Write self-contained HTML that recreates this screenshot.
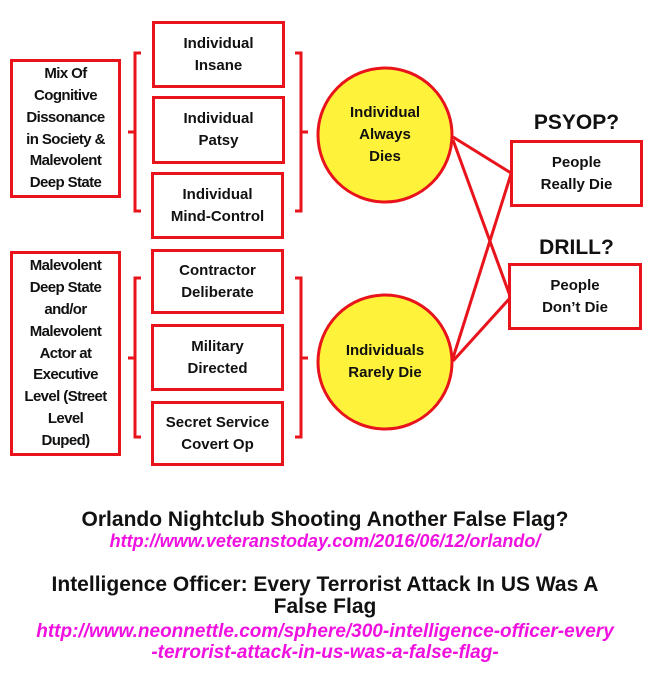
<!DOCTYPE html>
<html><head><style>
body{margin:0;width:650px;height:692px;background:#fff;position:relative;overflow:hidden;font-family:"Liberation Sans",sans-serif}
.b{position:absolute;border:3px solid #e8131b;box-sizing:border-box;display:flex;align-items:center;justify-content:center;text-align:center;font-weight:bold;font-size:15px;line-height:22px;color:#111;background:#fff}
.n{font-size:15px;letter-spacing:-0.6px;line-height:21.8px;white-space:nowrap}
.t{position:absolute;left:0;width:650px;text-align:center;font-weight:bold;white-space:nowrap}
.k{color:#111;font-size:21px;line-height:22px}
.u{color:#f010e0;font-style:italic;font-size:18px;line-height:21px}
</style></head><body>
<svg width="650" height="692" style="position:absolute;left:0;top:0">
<g stroke="#e8131b" stroke-width="3" fill="none">
<path d="M141 53 H135 V211 H141 M135 132 H128"/>
<path d="M295 53 H301 V211 H295 M301 132 H308"/>
<path d="M141 278 H135 V437 H141 M135 358 H128"/>
<path d="M295 278 H301 V437 H295 M301 358 H308"/>
<line x1="453" y1="137" x2="511" y2="173"/>
<line x1="453" y1="140" x2="510" y2="296"/>
<line x1="453" y1="358" x2="511" y2="174"/>
<line x1="453" y1="361" x2="510" y2="298"/>
</g>
<circle cx="385" cy="135" r="67" fill="#fff23a" stroke="#e8131b" stroke-width="3"/>
<circle cx="385" cy="362" r="67" fill="#fff23a" stroke="#e8131b" stroke-width="3"/>
</svg>
<div class="b n" style="left:10px;top:59px;width:111px;height:139px">Mix Of<br>Cognitive<br>Dissonance<br>in Society &amp;<br>Malevolent<br>Deep State</div>
<div class="b n" style="left:10px;top:251px;width:111px;height:205px">Malevolent<br>Deep State<br>and/or<br>Malevolent<br>Actor at<br>Executive<br>Level (Street<br>Level<br>Duped)</div>
<div class="b" style="left:152px;top:21px;width:133px;height:67px">Individual<br>Insane</div>
<div class="b" style="left:152px;top:96px;width:133px;height:68px">Individual<br>Patsy</div>
<div class="b" style="left:151px;top:172px;width:133px;height:67px">Individual<br>Mind-Control</div>
<div class="b" style="left:151px;top:249px;width:133px;height:65px">Contractor<br>Deliberate</div>
<div class="b" style="left:151px;top:324px;width:133px;height:67px">Military<br>Directed</div>
<div class="b" style="left:151px;top:401px;width:133px;height:65px">Secret Service<br>Covert Op</div>
<div class="b" style="left:318px;top:102px;width:134px;height:66px;border:none;background:none">Individual<br>Always<br>Dies</div>
<div class="b" style="left:318px;top:340px;width:134px;height:44px;border:none;background:none">Individuals<br>Rarely Die</div>
<div class="b" style="left:510px;top:140px;width:133px;height:67px">People<br>Really Die</div>
<div class="b" style="left:508px;top:263px;width:134px;height:67px">People<br>Don’t Die</div>
<div class="b" style="left:510px;top:108px;width:133px;height:30px;border:none;background:none;font-size:21px">PSYOP?</div>
<div class="b" style="left:510px;top:233px;width:133px;height:30px;border:none;background:none;font-size:21px">DRILL?</div>
<div class="t k" style="top:509px">Orlando Nightclub Shooting Another False Flag?</div>
<div class="t u" style="top:531px">http://www.veteranstoday.com/2016/06/12/orlando/</div>
<div class="t k" style="top:574px">Intelligence Officer: Every Terrorist Attack In US Was A<br>False Flag</div>
<div class="t u" style="top:621px;font-size:19px">http://www.neonnettle.com/sphere/300-intelligence-officer-every<br>-terrorist-attack-in-us-was-a-false-flag-</div>
</body></html>
